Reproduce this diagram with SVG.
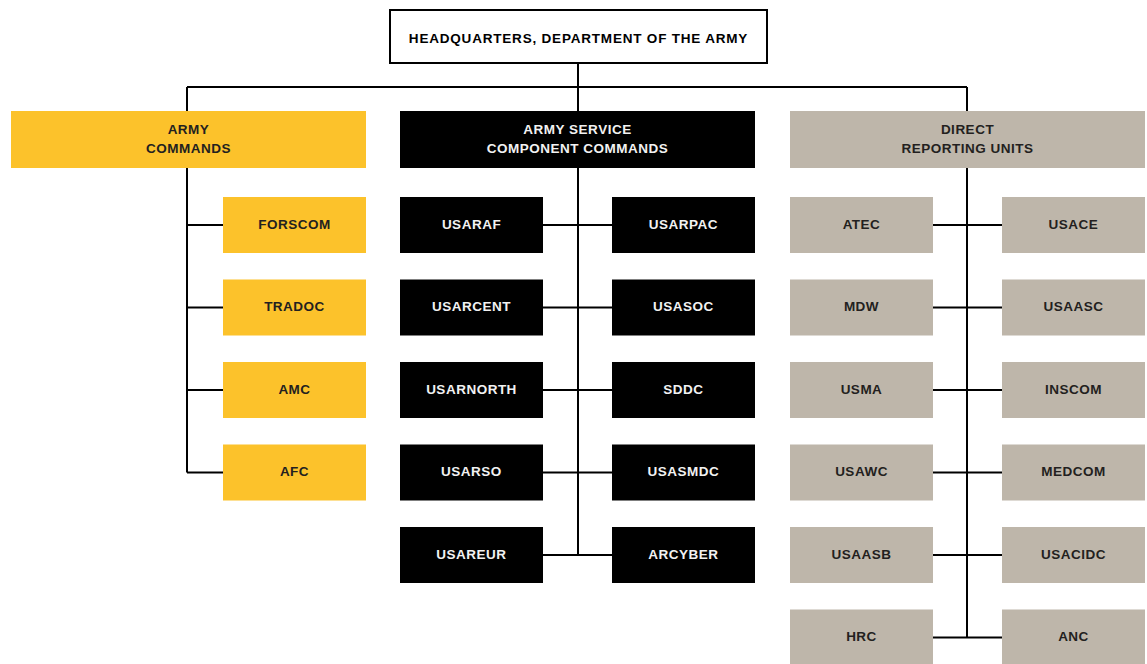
<svg xmlns="http://www.w3.org/2000/svg" width="1147" height="664" viewBox="0 0 1147 664">
<style>
text{font-family:"Liberation Sans",Arial,sans-serif;font-weight:bold;font-size:13.5px;text-anchor:middle;dominant-baseline:central;letter-spacing:0.5px}
.y rect{fill:#FCC22B}
.g rect{fill:#BEB6AA}
.b rect{fill:#000}
.y text,.g text{fill:#231F20}
.b text{fill:#F2F2F2}
.c{stroke:#000;stroke-width:2;fill:none}
</style>
<rect width="1147" height="664" fill="#fff"/>
<g id="connectors" class="c">
<path d="M578 63V87M187 87H967M187 87V111M578 87V111M967 87V111"/>
<path d="M187 168V472.5M187 225H223M187 307.5H223M187 390H223M187 472.5H223"/>
<path d="M578 168V555M543 225H612M543 307.5H612M543 390H612M543 472.5H612M543 555H612"/>
<path d="M967 168V637.5M933 225H1002M933 307.5H1002M933 390H1002M933 472.5H1002M933 555H1002M933 637.5H1002"/>
</g>
<g id="hq"><rect x="390" y="10" width="377" height="53" fill="#fff" stroke="#000" stroke-width="2"/><text x="578.5" y="38" style="letter-spacing:0.8px">HEADQUARTERS, DEPARTMENT OF THE ARMY</text></g>
<g id="army-commands" class="y"><rect x="11" y="111" width="355" height="57"/><text x="188.5" y="129">ARMY</text><text x="188.5" y="148">COMMANDS</text></g>
<g id="ascc" class="b"><rect x="400" y="111" width="355" height="57"/><text x="577.5" y="129">ARMY SERVICE</text><text x="577.5" y="148">COMPONENT COMMANDS</text></g>
<g id="dru" class="g"><rect x="790" y="111" width="355" height="57"/><text x="967.5" y="129">DIRECT</text><text x="967.5" y="148">REPORTING UNITS</text></g>

<g id="forscom" class="y"><rect x="223" y="197" width="143" height="56"/><text x="294.5" y="224">FORSCOM</text></g>
<g id="tradoc" class="y"><rect x="223" y="279.5" width="143" height="56"/><text x="294.5" y="306.5">TRADOC</text></g>
<g id="amc" class="y"><rect x="223" y="362" width="143" height="56"/><text x="294.5" y="389">AMC</text></g>
<g id="afc" class="y"><rect x="223" y="444.5" width="143" height="56"/><text x="294.5" y="471.5">AFC</text></g>

<g id="usaraf" class="b"><rect x="400" y="197" width="143" height="56"/><text x="471.5" y="224">USARAF</text></g>
<g id="usarcent" class="b"><rect x="400" y="279.5" width="143" height="56"/><text x="471.5" y="306.5">USARCENT</text></g>
<g id="usarnorth" class="b"><rect x="400" y="362" width="143" height="56"/><text x="471.5" y="389">USARNORTH</text></g>
<g id="usarso" class="b"><rect x="400" y="444.5" width="143" height="56"/><text x="471.5" y="471.5">USARSO</text></g>
<g id="usareur" class="b"><rect x="400" y="527" width="143" height="56"/><text x="471.5" y="554">USAREUR</text></g>

<g id="usarpac" class="b"><rect x="612" y="197" width="143" height="56"/><text x="683.5" y="224">USARPAC</text></g>
<g id="usasoc" class="b"><rect x="612" y="279.5" width="143" height="56"/><text x="683.5" y="306.5">USASOC</text></g>
<g id="sddc" class="b"><rect x="612" y="362" width="143" height="56"/><text x="683.5" y="389">SDDC</text></g>
<g id="usasmdc" class="b"><rect x="612" y="444.5" width="143" height="56"/><text x="683.5" y="471.5">USASMDC</text></g>
<g id="arcyber" class="b"><rect x="612" y="527" width="143" height="56"/><text x="683.5" y="554">ARCYBER</text></g>

<g id="atec" class="g"><rect x="790" y="197" width="143" height="56"/><text x="861.5" y="224">ATEC</text></g>
<g id="mdw" class="g"><rect x="790" y="279.5" width="143" height="56"/><text x="861.5" y="306.5">MDW</text></g>
<g id="usma" class="g"><rect x="790" y="362" width="143" height="56"/><text x="861.5" y="389">USMA</text></g>
<g id="usawc" class="g"><rect x="790" y="444.5" width="143" height="56"/><text x="861.5" y="471.5">USAWC</text></g>
<g id="usaasb" class="g"><rect x="790" y="527" width="143" height="56"/><text x="861.5" y="554">USAASB</text></g>
<g id="hrc" class="g"><rect x="790" y="609.5" width="143" height="56"/><text x="861.5" y="636.5">HRC</text></g>

<g id="usace" class="g"><rect x="1002" y="197" width="143" height="56"/><text x="1073.5" y="224">USACE</text></g>
<g id="usaasc" class="g"><rect x="1002" y="279.5" width="143" height="56"/><text x="1073.5" y="306.5">USAASC</text></g>
<g id="inscom" class="g"><rect x="1002" y="362" width="143" height="56"/><text x="1073.5" y="389">INSCOM</text></g>
<g id="medcom" class="g"><rect x="1002" y="444.5" width="143" height="56"/><text x="1073.5" y="471.5">MEDCOM</text></g>
<g id="usacidc" class="g"><rect x="1002" y="527" width="143" height="56"/><text x="1073.5" y="554">USACIDC</text></g>
<g id="anc" class="g"><rect x="1002" y="609.5" width="143" height="56"/><text x="1073.5" y="636.5">ANC</text></g>
</svg>
